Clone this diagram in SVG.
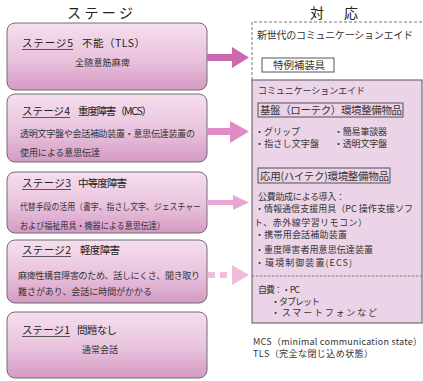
<svg xmlns="http://www.w3.org/2000/svg" width="423" height="381" viewBox="0 0 423 381">
<defs>
<linearGradient id="stg" x1="0" y1="0" x2="0" y2="1">
<stop offset="0" stop-color="#f5dfee"/>
<stop offset="0.55" stop-color="#e9c2dd"/>
<stop offset="1" stop-color="#d49ac3"/>
</linearGradient>
<style>
.t{font-family:"Noto Sans CJK JP","Noto Sans",sans-serif;fill:#333;}
.hd{font-size:14px;fill:#222;}
.st{font-size:10.5px;fill:#222;}
.b{font-size:9px;}
.r{font-size:9px;}
.box{fill:url(#stg);stroke:#6e6e6e;stroke-width:1;}
.ul{stroke:#333;stroke-width:0.8;}
.lbl{fill:none;stroke:#444;stroke-width:0.9;}
</style>
</defs>
<rect width="423" height="381" fill="#fff"/>

<text class="t hd" x="67" y="18" textLength="66" lengthAdjust="spacing">ステージ</text>
<text class="t hd" x="310" y="18" textLength="48" lengthAdjust="spacing">対　応</text>

<g id="stage5">
<rect class="box" x="7" y="23" width="200" height="67" rx="8"/>
<text class="t st" x="22" y="47" textLength="51">ステージ5</text>
<line class="ul" x1="22" y1="49.5" x2="73" y2="49.5"/>
<text class="t st" x="82" y="47" textLength="63">不能（TLS）</text>
<text class="t b" x="75" y="66" textLength="55">全随意筋麻痺</text>
</g>

<g id="stage4">
<rect class="box" x="7" y="94" width="200" height="68" rx="8"/>
<text class="t st" x="22" y="115" textLength="48">ステージ4</text>
<line class="ul" x1="22" y1="117.5" x2="70" y2="117.5"/>
<text class="t st" x="78" y="115" textLength="74">重度障害（MCS）</text>
<text class="t b" x="20" y="136.5" textLength="175">透明文字盤や会話補助装置・意思伝達装置の</text>
<text class="t b" x="20" y="155.5" textLength="80">使用による意思伝達</text>
</g>

<g id="stage3">
<rect class="box" x="7" y="172" width="200" height="61" rx="8"/>
<text class="t st" x="22" y="187" textLength="49">ステージ3</text>
<line class="ul" x1="22" y1="189.5" x2="71" y2="189.5"/>
<text class="t st" x="78" y="187" textLength="49">中等度障害</text>
<text class="t b" x="20" y="209.5" textLength="181" lengthAdjust="spacingAndGlyphs">代替手段の活用（書字、指さし文字、ジェスチャー</text>
<text class="t b" x="20" y="228.5" textLength="145" lengthAdjust="spacingAndGlyphs">および福祉用具・機器による意思伝達）</text>
</g>

<g id="stage2">
<rect class="box" x="7" y="240" width="200" height="63" rx="8"/>
<text class="t st" x="22" y="254" textLength="49">ステージ2</text>
<line class="ul" x1="22" y1="256.5" x2="71" y2="256.5"/>
<text class="t st" x="80" y="254" textLength="40">軽度障害</text>
<text class="t b" x="18" y="278.5" textLength="182">麻痺性構音障害のため、話しにくさ、聞き取り</text>
<text class="t b" x="18" y="294.5" textLength="134">難さがあり、会話に時間がかかる</text>
</g>

<g id="stage1">
<rect class="box" x="7" y="312" width="200" height="66" rx="8"/>
<text class="t st" x="22" y="334" textLength="48">ステージ1</text>
<line class="ul" x1="22" y1="336.5" x2="70" y2="336.5"/>
<text class="t st" x="77" y="334" textLength="40">問題なし</text>
<text class="t b" x="82" y="352.5" textLength="36">通常会話</text>
</g>

<g id="response">
<path d="M252,80 V22 H423" fill="none" stroke="#777" stroke-width="1" stroke-dasharray="3,2"/>
<rect x="252" y="80" width="170" height="243" fill="#ecd4e8" stroke="#555" stroke-width="1"/>
<line x1="252" y1="276" x2="422" y2="276" stroke="#666" stroke-width="0.8" stroke-dasharray="2.5,1.5"/>
<text class="t" font-size="10" x="257" y="38.5" textLength="156">新世代のコミュニケーションエイド</text>
<rect class="lbl" x="262" y="58" width="72" height="14"/>
<text class="t" font-size="10.5" x="273" y="69" textLength="52">特例補装具</text>
<text class="t b" x="258" y="93.5" textLength="107">コミュニケーションエイド</text>
<rect class="lbl" x="258" y="103" width="145" height="14"/>
<text class="t" font-size="10.5" x="260" y="114" textLength="142" fill="#222">基盤（ローテク）環境整備物品</text>
<text class="t b" x="255" y="134.5" textLength="45">・グリップ</text>
<text class="t b" x="334" y="134.5" textLength="53">・簡易筆談器</text>
<text class="t b" x="255" y="146.5" textLength="64">・指さし文字盤</text>
<text class="t b" x="334" y="146.5" textLength="53">・透明文字盤</text>
<rect class="lbl" x="258" y="168" width="132" height="15"/>
<text class="t" font-size="10.5" x="260" y="179.5" textLength="129" fill="#222">応用(ハイテク)環境整備物品</text>
<text class="t b" x="258" y="199.5" textLength="87">公費助成による導入：</text>
<text class="t b" x="255" y="211.5" textLength="158">・情報通信支援用具（PC 操作支援ソフ</text>
<text class="t b" x="254" y="225.5" textLength="113">ト、赤外線学習リモコン）</text>
<text class="t b" x="255" y="238" textLength="92">・携帯用会話補助装置</text>
<text class="t b" x="255" y="252.5" textLength="118">・重度障害者用意思伝達装置</text>
<text class="t b" x="255" y="265.5" textLength="97">・環境制御装置(ECS)</text>
<text class="t b" x="258" y="293" textLength="42">自費：・PC</text>
<text class="t b" x="271" y="304.5" textLength="49">・タブレット</text>
<text class="t b" x="271" y="316" textLength="106">・スマートフォンなど</text>
<text class="t r" x="253" y="345" textLength="169">MCS（minimal communication state）</text>
<text class="t r" x="253" y="357" textLength="120">TLS（完全な閉じ込め状態）</text>
</g>

<g id="connectors">
<polygon points="207,54 232,54 232,47 249,57.5 232,68 232,61 207,61" fill="#cc6aae"/>
<polygon points="207,128 230,128 230,121 249,131.5 230,143 230,135 207,135" fill="#e28ac5"/>
<polygon points="207,200 233,200 233,195 249,202.5 233,210 233,205 207,205" fill="#eaa6d2"/>
<rect x="208" y="272" width="7" height="6" fill="#f0bcdc"/>
<rect x="220" y="272" width="7" height="6" fill="#f0bcdc"/>
<polygon points="232,265 249,275 232,285" fill="#f0bcdc"/>
</g>
</svg>
